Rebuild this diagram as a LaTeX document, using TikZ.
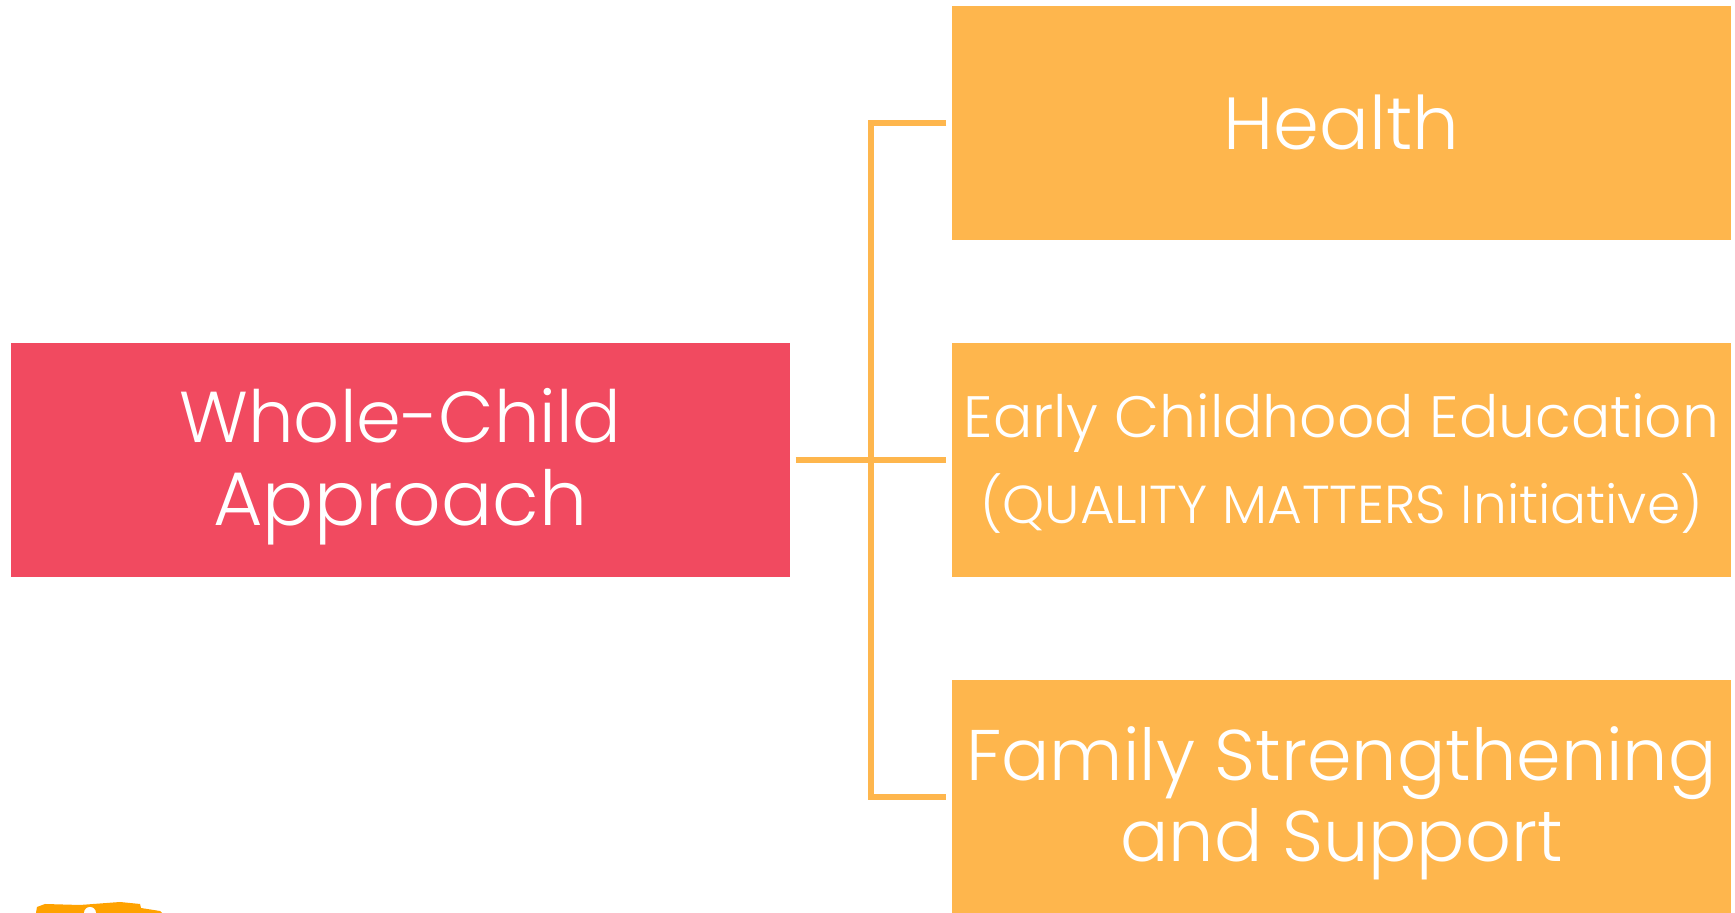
\documentclass[tikz,border=0pt]{standalone}
\usepackage{fontspec}
\setmainfont{Poppins Light}
\usepackage{xcolor}
\usetikzlibrary{positioning}
\definecolor{boxorange}{HTML}{FEB64D}
\definecolor{boxred}{HTML}{F14A60}
\definecolor{blobcolor}{HTML}{FFA200}
\newcommand{\lowerline}[2]{\raisebox{-#1}[\height][\depth]{#2}}
\tikzset{
	topic/.style={rectangle,fill=boxorange,text=white,minimum width=7.79cm,minimum height=2.34cm,inner sep=0pt,align=center},
	link/.style={draw=boxorange,line width=0.06cm,shorten <=0.05cm,shorten >=0.05cm}
}
\begin{document}
\begin{tikzpicture}
	\useasboundingbox (0,0) rectangle (17.35,9.13);
	
	% draw left box
	\node (approach) at (4.005,4.53) [topic,fill=boxred,font=\fontsize{20.5}{0.83cm}\selectfont] {\lowerline{0.07cm}{Whole-Child}\\\lowerline{0.07cm}{\fontsize{21.6}{0.83cm}\selectfont Approach}};
	
	% draw right boxes
	\node (health) at (13.415,7.9) [topic,font=\fontsize{21}{0.83cm}\selectfont] {Health};
	\node (education) at (13.415,4.53) [topic,font=\fontsize{16.6}{0.86cm}\selectfont] {\lowerline{0.035cm}{Early Childhood Education}\\\lowerline{0.035cm}{\fontsize{15.2}{0.86cm}\selectfont (QUALITY MATTERS Initiative)}};
	\node (family) at (13.415,1.155) [topic,font=\fontsize{20.4}{0.81cm}\selectfont] {\lowerline{0.055cm}{Family Strengthening}\\\lowerline{0.055cm}{and Support}};
	
	% draw lines between boxes
	\coordinate (bustop) at (8.71,7.9);
	\coordinate (busbottom) at (8.71,1.155);
	\draw[link] (approach) -- (education);
	\draw[link,line join=miter] (health.west) -- (bustop) -- (busbottom) -- (family.west);
	
	% draw cut off mark in the corner
	\fill[blobcolor] (0.36,0) -- (0.37,0.06) -- (0.45,0.09) -- (0.8,0.08) -- (1.2,0.11) -- (1.4,0.09) -- (1.41,0.05) -- (1.6,0.02) -- (1.62,0) -- cycle;
	\fill[white] (0.9,0) circle (0.06);
\end{tikzpicture}
\end{document}
